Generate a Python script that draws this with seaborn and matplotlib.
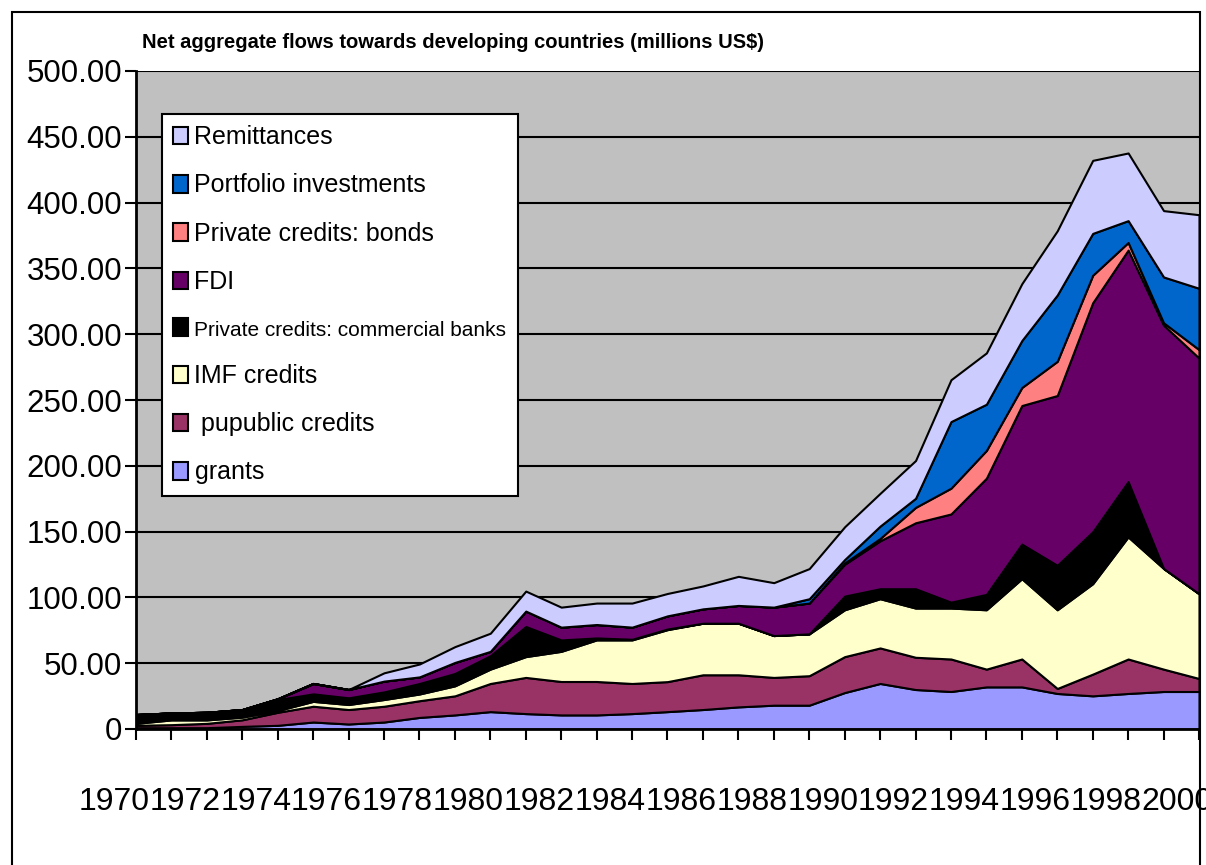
import matplotlib
matplotlib.use("Agg")
import matplotlib.pyplot as plt
import matplotlib.transforms as mtransforms
from matplotlib.patches import Rectangle
import seaborn as sns
import pandas as pd

# values (millions US$)
years = list(range(1970, 2001))

grants = [1, 1, 1, 2, 2.8, 5.3, 3.8, 5.3, 8.8, 10.7,
          13.2, 11.7, 10.7, 10.7, 11.7, 13.2, 14.8, 16.8, 18.1, 18.1,
          27.7, 34.6, 30, 28.5, 32, 32, 27, 25.2, 27, 28.5, 28.5]
public_credits = [1.8, 2.3, 3.3, 5, 9.9, 12, 11, 12, 12.7, 14.5,
                  21.4, 27.5, 25.4, 25.4, 22.9, 22.8, 26.4, 24.4, 21.1, 22.4,
                  27.3, 27, 24.5, 24.7, 13.5, 21.2, 3.8, 16.5, 26.2, 17, 9.9]
imf_credits = [1.5, 3.6, 2.6, 2, 1.3, 3.7, 3.8, 5.1, 5.1, 7.6,
               10.9, 15.8, 22.9, 31.6, 33.1, 39.5, 39.2, 39.2, 31.8, 31.8,
               35.6, 37.4, 37.4, 38.7, 45.1, 61, 59.8, 68.7, 92.8, 76.5, 64.4]
commercial_banks = [6.7, 5.3, 5.8, 5, 8.4, 5.7, 5.1, 5.8, 8, 9.4,
                    10.2, 22.9, 8.7, 1.5, 0.5, 0.5, 0, 0, 0, 0,
                    10.4, 7.6, 14.7, 4.5, 11.7, 26.3, 33.8, 39.5, 42, 0, 0]
fdi = [0, 0, 0, 0.8, 0.6, 7.9, 6.3, 8.2, 5, 8.4,
       3.3, 11.7, 9.7, 10.2, 9.2, 10, 10.9, 13.5, 21.6, 23.4,
       24.2, 36.4, 50.1, 67, 88.3, 105.3, 129, 174, 175.9, 184.9, 179.1]
bonds = [0, 0, 0, 0, 0, 0, 0, 0, 0, 0,
         0, 0, 0, 0, 0, 0, 0, 0, 0, 0,
         1, 1.8, 11.7, 19.6, 21.1, 13.7, 26, 20.9, 5.8, 1.8, 6.4]
portfolio = [0, 0, 0, 0, 0, 0, 0, 0, 0, 0,
             0, 0, 0, 0, 0, 0, 0, 0, 0, 3.3,
             2.6, 9.4, 6.9, 50.6, 35.1, 35.7, 50.4, 31.8, 16.6, 34.8, 46.6]
remittances = [0, 0, 0, 0, 0, 0, 0, 6.3, 9.8, 12,
               13.8, 15.2, 15.2, 16.3, 18.3, 17, 17.4, 22.1, 18.6, 22.9,
               24.9, 24.9, 28.7, 31.8, 39, 43.2, 48.8, 55.5, 51.4, 50.4, 55.9]

series_labels = ["grants", " pupublic credits", "IMF credits",
                 "Private credits: commercial banks", "FDI",
                 "Private credits: bonds", "Portfolio investments", "Remittances"]
series_colors = ["#9999FF", "#993366", "#FFFFCC", "#000000",
                 "#660066", "#FF8080", "#0066CC", "#CCCCFF"]

y_ticks = [0, 50, 100, 150, 200, 250, 300, 350, 400, 450, 500]
y_tick_labels = ["0"] + [f"{v:.2f}" for v in y_ticks[1:]]
x_tick_labels = [str(y) if y % 2 == 0 else "" for y in years]

title = "Net aggregate flows towards developing countries (millions US$)"

df = pd.DataFrame({
    "year": years,
    series_labels[0]: grants,
    series_labels[1]: public_credits,
    series_labels[2]: imf_credits,
    series_labels[3]: commercial_banks,
    series_labels[4]: fdi,
    series_labels[5]: bonds,
    series_labels[6]: portfolio,
    series_labels[7]: remittances,
})

sns.set_theme(style="ticks")
plt.rcParams["font.family"] = ["Liberation Sans", "DejaVu Sans"]
plt.rcParams["text.color"] = "black"
plt.rcParams["xtick.color"] = "black"
plt.rcParams["ytick.color"] = "black"
plt.rcParams["axes.labelcolor"] = "black"

W, H = 1206, 865
fig = plt.figure(figsize=(W / 100, H / 100), dpi=100)
ax = fig.add_axes([136 / W, 1 - 729 / H, (1199 - 136) / W, (729 - 71) / H])
ax.set_facecolor("#C0C0C0")

ax.stackplot(
    df["year"],
    [df[c] for c in series_labels],
    labels=series_labels,
    colors=sns.color_palette(series_colors),
    edgecolor="black",
    linewidth=1.5,
)

ax.set_xlim(1970, 2000)
ax.set_ylim(0, 500)
ax.set_yticks(y_ticks)
ax.set_yticklabels(y_tick_labels, fontsize=22.5)
ax.set_xticks(years)
ax.set_xticklabels(x_tick_labels, fontsize=23)
ax.yaxis.grid(True, color="black", linewidth=1.5)
ax.set_axisbelow(True)

ax.tick_params(axis="both", direction="out", length=8, width=1.5,
               color="black", labelcolor="black", bottom=True, left=True)
ax.tick_params(axis="x", pad=34)
ax.tick_params(axis="y", pad=2)

# excel put the year labels a bit left of their ticks
shift = mtransforms.ScaledTranslation(-22 / 100, 0, fig.dpi_scale_trans)
for lbl in ax.get_xticklabels():
    lbl.set_transform(lbl.get_transform() + shift)

for side in ["top", "right"]:
    ax.spines[side].set_visible(False)
for side in ["left", "bottom"]:
    ax.spines[side].set_color("black")
    ax.spines[side].set_linewidth(2)

handles, labels = ax.get_legend_handles_labels()
leg = ax.legend(
    handles[::-1], labels[::-1],
    loc="upper left",
    bbox_to_anchor=(162 / W, 1 - 114 / H),
    bbox_transform=fig.transFigure,
    fontsize=18,
    frameon=True,
    fancybox=False,
    edgecolor="black",
    framealpha=1,
    borderpad=0.45,
    labelspacing=0.97,
    handlelength=0.6,
    handleheight=0.7,
    handletextpad=0.25,
    borderaxespad=0,
)
leg.get_frame().set_linewidth(1.5)
leg.get_texts()[4].set_fontsize(15)

fig.text(142 / W, 1 - 42 / H, title, fontsize=14.5, fontweight="bold",
         ha="left", va="center")

# chart area border
fig.add_artist(Rectangle((12 / W, -0.05), (1200 - 12) / W, (865 - 12) / H + 0.05,
                         transform=fig.transFigure, fill=False,
                         edgecolor="black", linewidth=1.5))

fig.savefig("out.png", dpi=100)
